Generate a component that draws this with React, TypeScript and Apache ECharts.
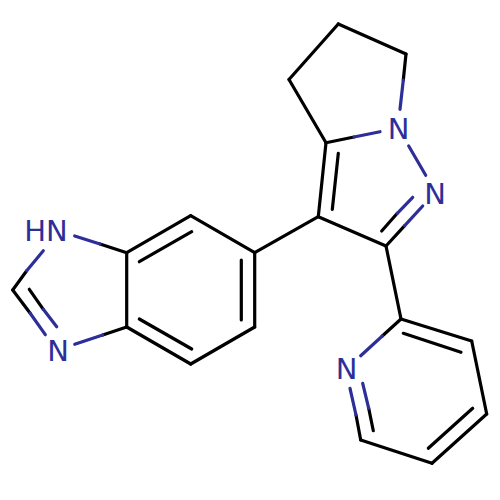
import React, { useEffect, useRef } from "react";
import * as echarts from "echarts";

const BLACK = "#000000";
const BLUE = "#2E2E99";

// Atom positions
const atomPoints: Record<string, [number, number]> = {
  a: [289, 79.5], b: [338.3, 24], c: [406, 54], d: [326, 142.7],
  e: [318.3, 216.7], f: [386, 246],
  g: [254.7, 252.7], h: [190.7, 215.7], i: [126.7, 252.7], j: [126.7, 327], k: [190.7, 364], l: [254.7, 327],
  m: [12.7, 290],
  p: [401, 319], q: [471.7, 341], r: [486.7, 414], s: [432, 463.3], t: [360.7, 440],
};

// Plain black ring and link bonds: pairs of atoms
const blackBonds: [string, string][] = [
  ["a", "b"], ["b", "c"], ["a", "d"], ["d", "e"], ["e", "f"], ["e", "g"],
  ["g", "h"], ["h", "i"], ["i", "j"], ["j", "k"], ["k", "l"], ["l", "g"],
  ["f", "p"], ["p", "q"], ["q", "r"], ["r", "s"], ["s", "t"],
];

// Free segments: x1, y1, x2, y2
const blackSegments: number[][] = [
  [338.3, 153.3, 332.3, 209.3],
  [139.3, 261.7, 191.7, 231.7],
  [139.3, 319, 191.7, 349],
  [241.3, 260, 241.3, 320],
  [403.3, 333.3, 461, 352.3],
  [472.7, 408.3, 428.3, 448.3],
  [406, 54, 403.3, 80],
  [326, 142.7, 354, 137],
  [386, 246, 404.7, 225.7],
  [381.7, 231, 397.3, 213.3],
  [126.7, 252.7, 100, 244],
  [126.7, 327, 102.7, 335],
  [12.7, 290, 26.7, 270.7],
  [12.7, 290, 30, 313],
  [29.3, 289.3, 43.3, 309.3],
  [401, 319, 382.3, 336],
  [360.7, 440, 356, 415],
  [373.3, 430.7, 368.7, 408.3],
];

const blueSegments: number[][] = [
  [403.3, 80, 400, 109.3],
  [354, 137, 380, 131.7],
  [408.7, 146, 425.7, 175.3],
  [404.7, 225.7, 422.7, 206],
  [397.3, 213.3, 412.7, 197.3],
  [100, 244, 74.7, 236],
  [102.7, 335, 74.7, 344.3],
  [26.7, 270.7, 43.3, 250.7],
  [30, 313, 45.3, 334.7],
  [43.3, 309.3, 56.7, 326.7],
  [382.3, 336, 360.7, 355.7],
  [356, 415, 350, 388.3],
  [368.7, 408.3, 362.7, 383.3],
];

// Atom labels: x, y, text
const atomLabels: [number, number, string][] = [
  [398.5, 129, "N"],
  [435, 193.5, "N"],
  [346.7, 369, "N"],
  [58, 351, "N"],
  [46, 231, "HN"],
];

const bondSegments = blackBonds.map(([u, v]) => [...atomPoints[u], ...atomPoints[v]]);

function bondSeries(data: number[][], color: string) {
  return {
    type: "custom",
    coordinateSystem: "cartesian2d",
    silent: true,
    data,
    encode: { x: [0, 2], y: [1, 3] },
    renderItem: (_: any, api: any) => {
      const from = api.coord([api.value(0), api.value(1)]);
      const to = api.coord([api.value(2), api.value(3)]);
      return {
        type: "line",
        shape: { x1: from[0], y1: from[1], x2: to[0], y2: to[1] },
        style: { stroke: color, lineWidth: 3.2, lineCap: "round", fill: null, opacity: 1 },
      };
    },
  };
}

export default function App() {
  const ref = useRef<HTMLDivElement>(null);
  useEffect(() => {
    document.body.style.margin = "0";
    const chart = echarts.init(ref.current!, null, { renderer: "svg" });
    chart.setOption({
      animation: false,
      backgroundColor: "#ffffff",
      grid: { left: 0, right: 0, top: 0, bottom: 0 },
      xAxis: { type: "value", min: 0, max: 500, show: false },
      yAxis: { type: "value", min: 0, max: 500, inverse: true, show: false },
      series: [
        bondSeries([...bondSegments, ...blackSegments], BLACK),
        bondSeries(blueSegments, BLUE),
        {
          type: "scatter",
          silent: true,
          symbolSize: 0,
          itemStyle: { opacity: 1 },
          data: atomLabels.map(([x, y, name]) => ({ value: [x, y], name })),
          label: {
            show: true,
            position: "inside",
            formatter: "{b}",
            color: BLUE,
            opacity: 1,
            textBorderWidth: 0,
            fontFamily: "DejaVu Sans",
            fontSize: 29,
            align: "center",
            verticalAlign: "middle",
          },
        },
      ],
    });
    return () => chart.dispose();
  }, []);
  return <div ref={ref} style={{ width: 500, height: 500 }} />;
}
